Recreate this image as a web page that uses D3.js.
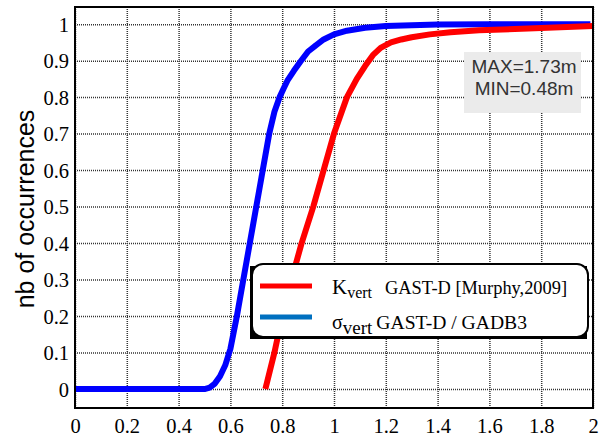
<!DOCTYPE html>
<html><head><meta charset="utf-8">
<script src="https://cdn.jsdelivr.net/npm/d3@7/dist/d3.min.js"></script>
<style>body{margin:0;background:#fff}svg{display:block}</style>
</head><body>
<svg id="c" width="604" height="440"></svg>
<script>
// Data
const xTicks = [0,0.2,0.4,0.6,0.8,1,1.2,1.4,1.6,1.8,2];
const yTicks = [0,0.1,0.2,0.3,0.4,0.5,0.6,0.7,0.8,0.9,1];
const sigmaX = [0,0.50,0.52,0.54,0.56,0.58,0.60,0.625,0.65,0.675,0.70,0.725,0.75,0.77,0.79,0.805,0.82,0.845,0.87,0.90,0.93,0.96,1.0,1.05,1.12,1.2,1.3,1.4,1.6,1.99];
const sigmaP = [0,0,0.004,0.015,0.035,0.065,0.11,0.2,0.3,0.4,0.5,0.6,0.7,0.76,0.8,0.823,0.845,0.872,0.897,0.925,0.942,0.958,0.972,0.982,0.99,0.995,0.997,0.999,1.0,1.0];
const kX = [0.735,0.77,0.80,0.836,0.875,0.92,0.96,1.0,1.05,1.088,1.12,1.15,1.18,1.22,1.26,1.3,1.37,1.45,1.56,1.75,1.9,2.0];
const kP = [0,0.1,0.2,0.3,0.4,0.5,0.6,0.7,0.8,0.85,0.885,0.915,0.935,0.95,0.958,0.964,0.972,0.978,0.983,0.988,0.992,0.995];
const legendLabels = [{sym:"K", sub:"vert", text:"GAST-D [Murphy,2009]"},{sym:"σ", sub:"vert", text:"GAST-D / GADB3"}];
const seriesColors = ["#ff0000","#0000ff"];
const legendColors = ["#ff0000","#0070c0"];
const annot = ["MAX=1.73m","MIN=0.48m"];
const yLabel = "nb of occurrences";

const svg = d3.select("#c");
const L=75,R=593,T=7,B=408;
const x = d3.scaleLinear().domain([0,2]).range([L,R]);
const y = d3.scaleLinear().domain([-0.052,1.047]).range([B,T]);

const serif = "'Liberation Serif','Times New Roman',serif";
const sans = "'Liberation Sans',Arial,sans-serif";

// grid + axes
const gx = svg.append("g").attr("transform",`translate(0,${B})`)
  .call(d3.axisBottom(x).tickValues(xTicks).tickFormat(d3.format("~g")).tickSize(-(B-T)).tickPadding(10));
const gy = svg.append("g").attr("transform",`translate(${L},0)`)
  .call(d3.axisLeft(y).tickValues(yTicks).tickFormat(d3.format("~g")).tickSize(-(R-L)).tickPadding(6));
[gx,gy].forEach(g=>{
  g.select(".domain").remove();
  g.selectAll(".tick line").attr("stroke","#333").attr("stroke-width",1.5).attr("stroke-dasharray","1,1");
  g.selectAll(".tick text").attr("font-family",serif).attr("font-size",20.5).attr("fill","#000");
});
gx.selectAll(".tick text").attr("dy","0.71em");
gy.selectAll(".tick text").attr("dy","0.35em");

// clip
svg.append("clipPath").attr("id","clip").append("rect").attr("x",L).attr("y",T).attr("width",R-L).attr("height",B-T);

const line = d3.line().x(d=>x(d[0])).y(d=>y(d[1]));
const plot = svg.append("g").attr("clip-path","url(#clip)");
plot.append("path").datum(sigmaX.map((v,i)=>[v,sigmaP[i]]))
  .attr("d",line).attr("fill","none").attr("stroke",seriesColors[1]).attr("stroke-width",6).attr("stroke-linejoin","round");
plot.append("path").datum(kX.map((v,i)=>[v,kP[i]]))
  .attr("d",line).attr("fill","none").attr("stroke",seriesColors[0]).attr("stroke-width",6).attr("stroke-linejoin","round");

// frame
svg.append("rect").attr("x",L).attr("y",T).attr("width",R-L).attr("height",B-T)
  .attr("fill","none").attr("stroke","#000").attr("stroke-width",2);

// y label
svg.append("text").attr("transform",`translate(34,209) rotate(-90)`).attr("text-anchor","middle")
  .attr("font-family",sans).attr("font-size",25).attr("fill","#000").text(yLabel);

// annotation box
svg.append("rect").attr("x",464).attr("y",52).attr("width",117).attr("height",61).attr("fill","#ebebeb");
annot.forEach((t,i)=>{
  svg.append("text").attr("x",524).attr("y",73+i*22).attr("text-anchor","middle")
    .attr("font-family",sans).attr("font-size",19).attr("fill","#333").text(t);
});

// legend
const lg = svg.append("g");
lg.append("rect").attr("x",250).attr("y",266).attr("width",337).attr("height",73).attr("fill","#000");
lg.append("rect").attr("x",252).attr("y",264).attr("width",336).attr("height",73).attr("rx",11)
  .attr("fill","#fff").attr("stroke","#000").attr("stroke-width",2);
const rowsY=[286,317];
const sizes=[{sym:21,sub:16,txt:18.4,dx:13,subdy:4},{sym:20,sub:19,txt:19.6,dx:4,subdy:5}];
const baseY=[294,329];
legendLabels.forEach((d,i)=>{
  lg.append("line").attr("x1",260).attr("x2",312).attr("y1",rowsY[i]).attr("y2",rowsY[i])
    .attr("stroke",legendColors[i]).attr("stroke-width",5);
  const t = lg.append("text").attr("x",332).attr("y",baseY[i]).attr("font-family",serif).attr("fill","#000");
  const s=sizes[i];
  t.append("tspan").attr("font-size",s.sym).text(d.sym);
  t.append("tspan").attr("font-size",s.sub).attr("dy",s.subdy).text(d.sub);
  t.append("tspan").attr("font-size",s.txt).attr("dy",-s.subdy).attr("dx",s.dx).text(d.text);
});
</script>
</body></html>
